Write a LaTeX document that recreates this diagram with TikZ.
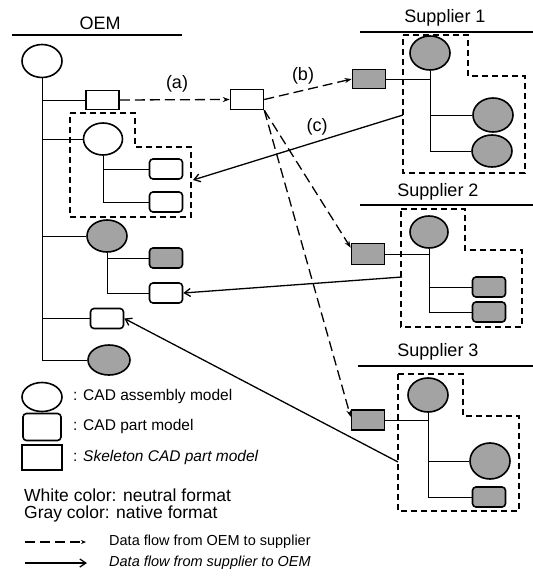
\documentclass[tikz,border=0pt]{standalone}
\usepackage{fontspec}
\setmainfont{Liberation Sans}
\usetikzlibrary{shapes.geometric,arrows.meta}
\begin{document}
\begin{tikzpicture}[x=1pt,y=-1pt,
  base/.style={draw=black, line width=1.6pt, inner sep=0pt},
  asm/.style={base, ellipse, minimum width=40pt, minimum height=33pt},
  part/.style={base, rectangle, rounded corners=3.5pt, minimum width=33pt, minimum height=20pt},
  skel/.style={base, rectangle, minimum width=33pt, minimum height=19pt},
  gr/.style={fill=black!36},
  wh/.style={fill=white},
  tree/.style={line width=1pt},
  region/.style={line width=1.4pt, dash pattern=on 6pt off 4pt},
  rule/.style={line width=1.1pt},
  toS/.style={line width=1.3pt, dash pattern=on 10pt off 5pt, -{Stealth[length=7pt,width=5pt]}},
  toO/.style={line width=1.3pt, -{Straight Barb[length=6pt,width=8pt]}},
  title/.style={inner sep=0pt, font=\fontsize{18}{20}\selectfont},
  lab/.style={inner sep=0pt, font=\fontsize{18}{20}\selectfont},
  leg/.style={inner sep=0pt, anchor=west, font=\fontsize{15.5}{18}\selectfont},
  legbig/.style={inner sep=0pt, anchor=west, font=\fontsize{17.5}{20}\selectfont},
  legsmall/.style={inner sep=0pt, anchor=west, font=\fontsize{14.5}{17}\selectfont}
]
\useasboundingbox (0,0) rectangle (533,576);

% ---------------- OEM ----------------
\node[title] (oemt) at (100,23) {OEM};
\coordinate (oemL) at (12,35);
\coordinate (oemR) at (182,35);
\draw[rule] (oemL) -- (oemR);

\node[asm, wh] (o0) at (42,61) {};
\node[skel, wh] (o1) at (102.5,100) {};
\node[asm, wh, minimum width=39pt, minimum height=32pt] (o2) at (103,139) {};
\node[part, wh] (o21) at (166,169) {};
\node[part, wh] (o22) at (166,202) {};
\node[asm, gr, minimum height=32pt] (o3) at (107,236) {};
\node[part, gr] (o31) at (166,258) {};
\node[part, wh] (o32) at (166,293) {};
\node[part, wh] (o4) at (107,318.5) {};
\node[asm, gr, minimum width=42pt, minimum height=30pt] (o5) at (109,360) {};

\draw[tree] (o0.south) |- (o1.west);
\draw[tree] (o0.south) |- (o2.west);
\draw[tree] (o0.south) |- (o3.west);
\draw[tree] (o0.south) |- (o4.west);
\draw[tree] (o0.south) |- (o5.west);
\draw[tree] (o2.south) |- (o21.west);
\draw[tree] (o2.south) |- (o22.west);
\draw[tree] (o3.south) |- (o31.west);
\draw[tree] (o3.south) |- (o32.west);

\draw[region] (70,113) -- (135,113) -- (135,147) -- (191,147) -- (191,217) -- (70,217) -- cycle;
\coordinate (oreg) at (193,180);

% middle skeleton
\node[skel, wh, minimum height=20pt] (m) at (247,99.5) {};

% ---------------- Supplier 1 ----------------
\node[title] (s1t) at (445,18) {Supplier 1};
\coordinate (s1L) at (360,32);
\coordinate (s1R) at (533,32);
\draw[rule] (s1L) -- (s1R);
\node[asm, gr, minimum height=34pt] (s1a) at (430,53) {};
\node[skel, gr] (s1s) at (369,79) {};
\node[asm, gr, minimum height=34pt] (s1b) at (493,115) {};
\node[asm, gr, minimum height=32pt] (s1c) at (492,151) {};
\draw[tree] (s1a.south) |- (s1s.east);
\draw[tree] (s1a.south) |- (s1b.west);
\draw[tree] (s1a.south) |- (s1c.west);
\draw[region] (403,35) -- (468,35) -- (468,76) -- (525,76) -- (525,173) -- (403,173) -- cycle;
\coordinate (s1out) at (403,115);

% ---------------- Supplier 2 ----------------
\node[title] (s2t) at (438,192) {Supplier 2};
\coordinate (s2L) at (360,205);
\coordinate (s2R) at (533,205);
\draw[rule] (s2L) -- (s2R);
\node[asm, gr, minimum width=38pt, minimum height=32pt] (s2a) at (429,232) {};
\node[skel, gr, minimum height=21pt] (s2s) at (368,254) {};
\node[part, gr] (s2b) at (489,287) {};
\node[part, gr] (s2c) at (489,312) {};
\draw[tree] (s2a.south) |- (s2s.east);
\draw[tree] (s2a.south) |- (s2b.west);
\draw[tree] (s2a.south) |- (s2c.west);
\draw[region] (401,209) -- (465,209) -- (465,250) -- (522,250) -- (522,327) -- (401,327) -- cycle;
\coordinate (s2out) at (402,277);

% ---------------- Supplier 3 ----------------
\node[title] (s3t) at (438,352) {Supplier 3};
\coordinate (s3L) at (358,366);
\coordinate (s3R) at (533,366);
\draw[rule] (s3L) -- (s3R);
\node[asm, gr, minimum height=34pt] (s3a) at (428,395) {};
\node[skel, gr, minimum height=20pt] (s3s) at (368,420) {};
\node[asm, gr, minimum height=36pt] (s3b) at (490,461) {};
\node[part, gr] (s3c) at (489,497) {};
\draw[tree] (s3a.south) |- (s3s.east);
\draw[tree] (s3a.south) |- (s3b.west);
\draw[tree] (s3a.south) |- (s3c.west);
\draw[region] (398,374) -- (463,374) -- (463,416) -- (519,416) -- (519,511) -- (398,511) -- cycle;
\coordinate (s3out) at (398,462);

% ---------------- data flows ----------------
\draw[toS] (o1.east) -- (m.west);
\node[lab] (la) at (177,84) {(a)};
\draw[toS] (m.east) -- (s1s.west);
\node[lab] (lb) at (303,76) {(b)};
\draw[toS] (m.south east) -- (s2s.160);
\draw[toS] (m.south east) -- (s3s.170);
\draw[toO] (s1out) -- (oreg);
\node[lab] (lc) at (317,127) {(c)};
\draw[toO] (s2out) -- (o32.east);
\draw[toO] (s3out) -- (o4.east);

% ---------------- legend ----------------
\node[asm, wh, minimum width=40pt, minimum height=29pt] (l1) at (42,397) {};
\node[leg] (t1) at (73,396) {: CAD assembly model};
\node[part, wh, minimum width=38pt, minimum height=27pt] (l2) at (42,427) {};
\node[leg] (t2) at (73,426) {: CAD part model};
\node[skel, wh, minimum width=40pt, minimum height=25pt] (l3) at (42,457.5) {};
\node[leg] (t3) at (73,457) {: \itshape Skeleton CAD part model};
\node[legbig] (t4) at (24,495) {White color: neutral format};
\node[legbig] (t5) at (24,514) {Gray color: native format};
\coordinate (d1a) at (25,542);
\coordinate (d1b) at (86,542);
\draw[toS, -{Stealth[length=5pt,width=4pt]}] (d1a) -- (d1b);
\node[legsmall] (t6) at (109,542) {Data flow from OEM to supplier};
\coordinate (d2a) at (25,563);
\coordinate (d2b) at (87,563);
\draw[toO] (d2a) -- (d2b);
\node[legsmall, font=\fontsize{14.5}{17}\selectfont\itshape] (t7) at (109,563) {Data flow from supplier to OEM};
\end{tikzpicture}
\end{document}
